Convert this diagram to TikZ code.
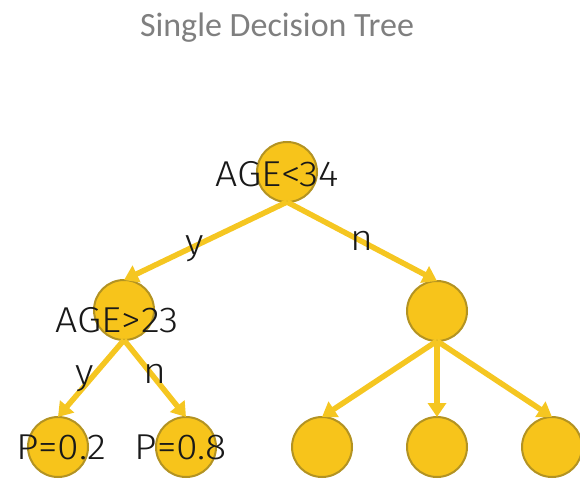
\documentclass[tikz,border=0pt]{standalone}
\usepackage{fontspec}
\setmainfont{Fira Sans Light}[FakeStretch=1.09]
\newfontfamily\titlefont{Carlito}
\usetikzlibrary{arrows.meta}
\definecolor{nodefill}{HTML}{F7C41B}
\definecolor{nodeedge}{HTML}{B39322}
\definecolor{linkcol}{HTML}{F5C621}
\definecolor{titlegray}{HTML}{7F7F7F}
\begin{document}
\begin{tikzpicture}[x=1pt,y=-1pt,
  ball/.style={circle,fill=nodefill,draw=nodeedge,line width=2pt,minimum size=60pt,inner sep=0pt,outer sep=0pt},
  link/.style={draw=linkcol,line width=5.5pt,-{Triangle[width=18pt,length=14pt]}},
  lbl/.style={font=\fontsize{36}{40}\selectfont,text=black!90,inner sep=0pt},
  elbl/.style={font=\fontsize{36}{40}\selectfont,text=black!90,inner sep=0pt}]
\useasboundingbox (0,0) rectangle (580,481);
\node[font=\titlefont\fontsize{34}{38}\selectfont,text=titlegray] (title) at (277,28) {Single Decision Tree};
% nodes
\node[ball] (root) at (287,172) {};
\node[ball] (l) at (124,310) {};
\node[ball] (r) at (437,311) {};
\node[ball] (ll) at (58,447) {};
\node[ball] (lr) at (186,447) {};
\node[ball] (r1) at (322,447) {};
\node[ball] (r2) at (437,447) {};
\node[ball] (r3) at (552,447) {};
% connectors
\draw[link] (root.south) -- (l.north);
\draw[link] (root.south) -- (r.north);
\draw[link] (l.south) -- (ll.north);
\draw[link] (l.south) -- (lr.north);
\draw[link] (r.south) -- (r1.north);
\draw[link] (r.south) -- (r2.north);
\draw[link] (r.south) -- (r3.north);
% labels
\node[lbl] (t1) at (277,174) {AGE<34};
\node[lbl] (t2) at (117,320) {AGE>23};
\node[lbl] (t3) at (61,447) {P=0.2};
\node[lbl] (t4) at (181,447) {P=0.8};
\node[elbl,anchor=base] (e1) at (195,254) {y};
\node[elbl,anchor=base] (e2) at (362,250) {n};
\node[elbl,anchor=base] (e3) at (85,384) {y};
\node[elbl,anchor=base] (e4) at (155,383) {n};
\end{tikzpicture}
\end{document}
